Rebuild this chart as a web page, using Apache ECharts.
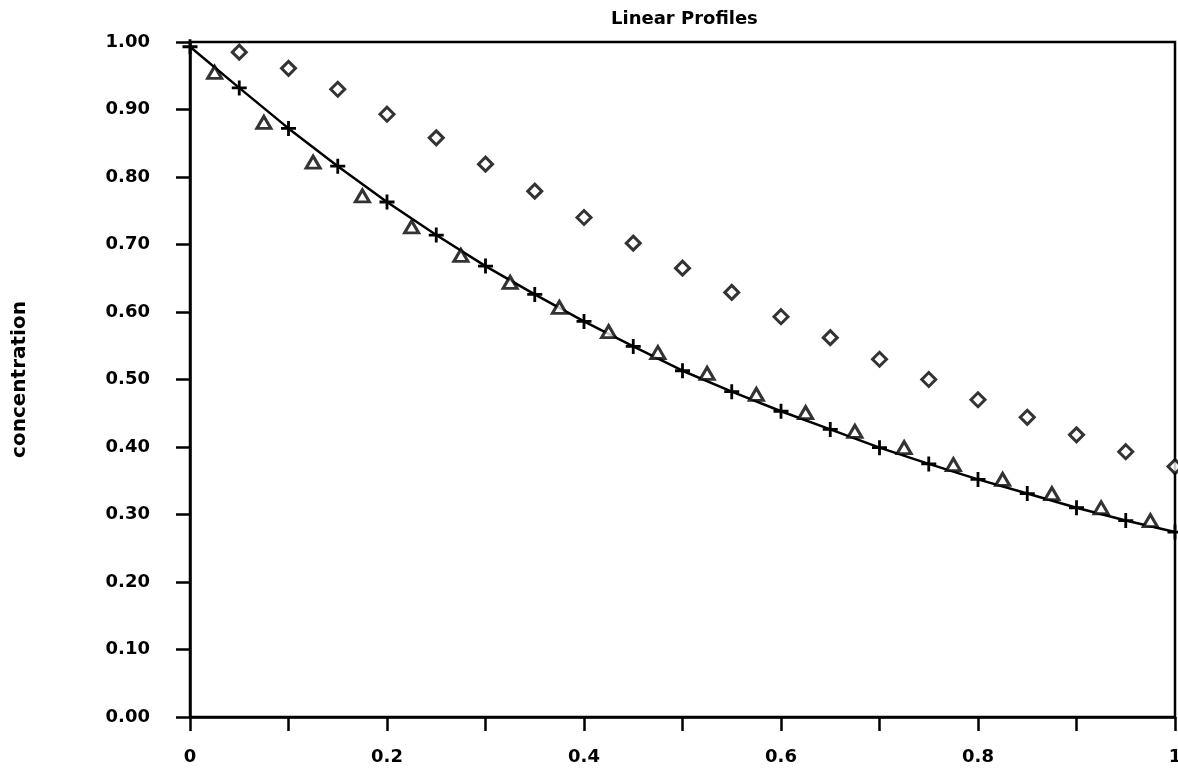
<!DOCTYPE html>
<html>
<head>
<meta charset="utf-8">
<script src="https://cdn.jsdelivr.net/npm/echarts@6/dist/echarts.min.js"></script>
<style>html,body{margin:0;padding:0;background:#fff;}#c{width:1178px;height:771px;}</style>
</head>
<body>
<div id="c"></div>
<script>
var xPlus = [0, 0.05, 0.10, 0.15, 0.20, 0.25, 0.30, 0.35, 0.40, 0.45, 0.50, 0.55, 0.60, 0.65, 0.70, 0.75, 0.80, 0.85, 0.90, 0.95, 1.00];
var yPlus = [0.993, 0.932, 0.872, 0.816, 0.763, 0.714, 0.668, 0.626, 0.586, 0.549, 0.513, 0.482, 0.453, 0.426, 0.399, 0.375, 0.352, 0.331, 0.310, 0.291, 0.274];
var xTri = [0.025, 0.075, 0.125, 0.175, 0.225, 0.275, 0.325, 0.375, 0.425, 0.475, 0.525, 0.575, 0.625, 0.675, 0.725, 0.775, 0.825, 0.875, 0.925, 0.975];
var yTri = [0.955, 0.881, 0.822, 0.772, 0.726, 0.684, 0.644, 0.607, 0.571, 0.540, 0.509, 0.478, 0.451, 0.423, 0.399, 0.374, 0.352, 0.331, 0.310, 0.291];
var xDia = [0.05, 0.10, 0.15, 0.20, 0.25, 0.30, 0.35, 0.40, 0.45, 0.50, 0.55, 0.60, 0.65, 0.70, 0.75, 0.80, 0.85, 0.90, 0.95, 1.00];
var yDia = [0.985, 0.961, 0.930, 0.893, 0.858, 0.819, 0.779, 0.740, 0.702, 0.665, 0.629, 0.593, 0.562, 0.530, 0.500, 0.470, 0.444, 0.418, 0.393, 0.371];
var titleText = "Linear Profiles";
var yName = "concentration";

function pairs(xs, ys) { return xs.map(function (x, i) { return [x, ys[i]]; }); }

var FONT = "DejaVu Sans";
var plusPath = 'path://M-1.5,-8H1.5V8H-1.5Z M-8,-1.5H8V1.5H-8Z';

var chart = echarts.init(document.getElementById('c'), null, { renderer: 'canvas' });
chart.setOption({
  backgroundColor: '#ffffff',
  animation: false,
  title: {
    text: titleText, left: 606, top: 5,
    textStyle: { fontFamily: FONT, fontWeight: 'bold', fontSize: 18, color: '#000' }
  },
  grid: {
    left: 190, right: 3, top: 42, bottom: 54,
    containLabel: false, outerBoundsMode: 'none',
    show: true, borderColor: '#000', borderWidth: 2.5, backgroundColor: 'transparent'
  },
  xAxis: {
    type: 'value', min: 0, max: 1, interval: 0.1,
    axisLine: { show: true, lineStyle: { color: '#000', width: 2.5 } },
    axisTick: { show: true, inside: false, length: 14, lineStyle: { color: '#000', width: 2.5 } },
    splitLine: { show: false },
    axisLabel: {
      margin: 31, color: '#000', fontFamily: FONT, fontWeight: 'bold', fontSize: 18,
      showMinLabel: true, showMaxLabel: true,
      formatter: function (v) {
        var k = Math.round(v * 10);
        if (k % 2 !== 0) return '';
        if (k === 0) return '0';
        if (k === 10) return '1';
        return (k / 10).toFixed(1);
      }
    }
  },
  yAxis: {
    type: 'value', min: 0, max: 1, interval: 0.1,
    name: yName, nameLocation: 'middle', nameGap: 160, nameRotate: 90,
    nameTextStyle: { fontFamily: FONT, fontWeight: 'bold', fontSize: 20, color: '#000' },
    axisLine: { show: true, lineStyle: { color: '#000', width: 2.5 } },
    axisTick: { show: true, inside: false, length: 14, lineStyle: { color: '#000', width: 2.5 } },
    splitLine: { show: false },
    axisLabel: {
      margin: 40, color: '#000', fontFamily: FONT, fontWeight: 'bold', fontSize: 18,
      formatter: function (v) { return v.toFixed(2); }
    }
  },
  series: [
    {
      type: 'line', data: pairs(xPlus, yPlus),
      showSymbol: true, showAllSymbol: true, symbol: plusPath, symbolSize: 15,
      lineStyle: { color: '#000', width: 2.5 },
      itemStyle: { color: '#000' },
      clip: false, z: 3
    },
    {
      type: 'scatter', data: pairs(xTri, yTri),
      symbol: 'triangle', symbolSize: [14, 12],
      itemStyle: { color: '#fff', borderColor: '#000', borderWidth: 3 },
      z: 4
    },
    {
      type: 'scatter', data: pairs(xDia, yDia),
      symbol: 'diamond', symbolSize: [14, 14],
      itemStyle: { color: '#fff', borderColor: '#000', borderWidth: 3 },
      z: 4
    }
  ]
});
</script>
</body>
</html>
